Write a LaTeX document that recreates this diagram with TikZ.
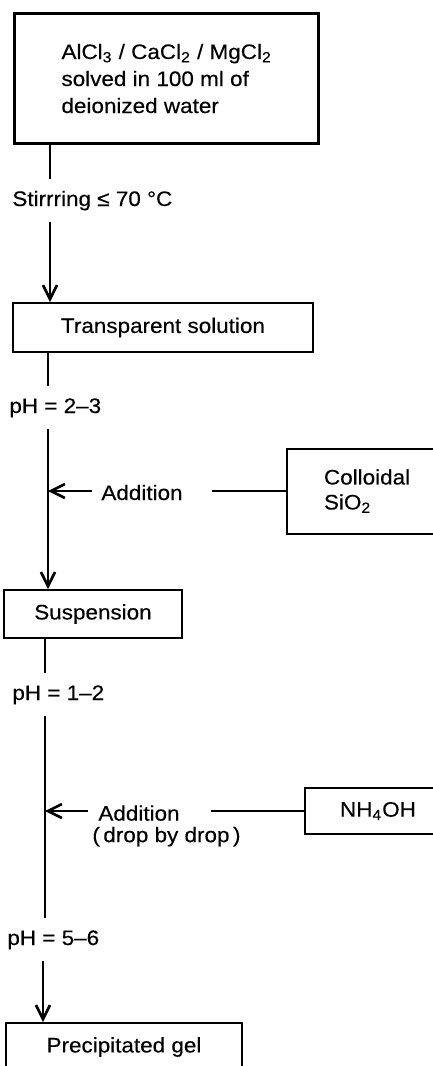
\documentclass[tikz,border=0pt]{standalone}
\usepackage{fontspec}
\setmainfont{Liberation Sans}[FakeStretch=1.07, FakeBold=0.3]
\usetikzlibrary{arrows.meta}

\begin{document}
\begin{tikzpicture}[x=0.5pt, y=-0.5pt, font=\fontsize{10.5}{12.5}\selectfont,
        stepbox/.style={draw, line width=1pt},
        note/.style={anchor=base west, inner xsep=0pt, inner ysep=6pt, text height=7.5pt, text depth=2pt},
        flow/.style={line width=1pt},
        arr/.style={flow, -{Straight Barb[length=7pt, width=7pt, line width=1.3pt]}}]
    \useasboundingbox (0,0) rectangle (433,1066);
    \clip (0,0) rectangle (433,1066);

    \coordinate (l1) at (50,0);
    \coordinate (l2) at (48,0);
    \coordinate (l3) at (45,0);
    \coordinate (l4) at (43,0);

    \node[stepbox, line width=1.5pt, anchor=north west, minimum width=147pt, minimum height=65pt, inner xsep=23.5pt, align=left, font=\fontsize{10.5}{13.5}\selectfont] (start) at (13,12) {AlCl\textsubscript{3} / CaCl\textsubscript{2} / MgCl\textsubscript{2}\\solved in 100 ml of\\deionized water};
    \node[stepbox, minimum width=150pt, minimum height=24.5pt] (trans) at (163,327.5) {Transparent solution};
    \node[stepbox, minimum width=89pt, minimum height=24pt] (susp) at (93,614) {Suspension};
    \node[stepbox, minimum width=118pt, minimum height=24pt] (gel) at (124,1047) {Precipitated gel};
    \node[stepbox, anchor=west, minimum height=42.5pt, inner xsep=18.5pt, text width=65pt, align=left, font=\fontsize{10.5}{12.5}\selectfont] (colloid) at (286,491) {Colloidal\\SiO\textsubscript{2}};
    \node[stepbox, anchor=west, minimum height=23pt, inner xsep=17.5pt, text width=60pt, align=left] (nh) at (304,811) {NH\textsubscript{4}OH};

    \node[note] (stir) at (12,206) {Stirrring ≤ 70 °C};
    \node[note] (ph1) at (9,413) {pH = 2--3};
    \node[note] (ph2) at (12,700) {pH = 1--2};
    \node[note] (ph3) at (7,945) {pH = 5--6};
    \node[anchor=base west, inner sep=0pt] (add1) at (101,500) {Addition};
    \node[anchor=north west, inner sep=0pt, align=left, font=\fontsize{10.5}{10.75}\selectfont] (add2) at (92,805) {\hspace{3pt}Addition\\(\,drop by drop\,)};

    \coordinate (c1end) at (212,491);
    \coordinate (a1start) at (92,491);
    \coordinate (c2end) at (211,811);
    \coordinate (a2start) at (88,811);

    \draw[flow] (start.south -| l1) -- (stir.north -| l1);
    \draw[arr] (stir.south -| l1) -- (trans.north -| l1);
    \draw[flow] (trans.south -| l2) -- (ph1.north -| l2);
    \draw[arr] (ph1.south -| l2) -- (susp.north -| l2);
    \draw[flow] (susp.south -| l3) -- (ph2.north -| l3);
    \draw[flow] (ph2.south -| l3) -- (ph3.north -| l3);
    \draw[arr] (ph3.south -| l4) -- (gel.north -| l4);

    \draw[line width=0.6pt] (colloid.west) -- (c1end);
    \draw[arr] (a1start) -- (a1start -| l2);
    \draw[flow] (nh.west) -- (c2end);
    \draw[arr] (a2start) -- (a2start -| l3);
\end{tikzpicture}
\end{document}
